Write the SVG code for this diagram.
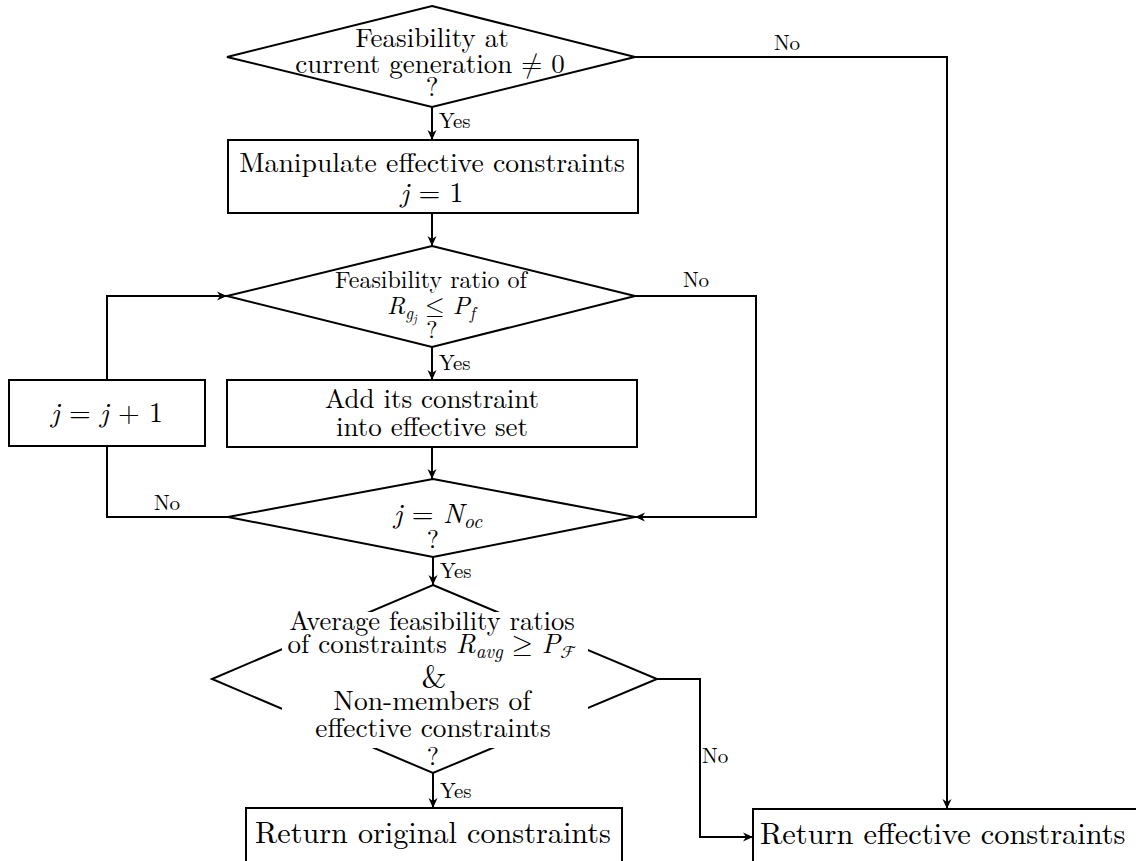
<svg xmlns="http://www.w3.org/2000/svg" width="1136" height="861" viewBox="0 0 1136 861">
<style>
.n{fill:#fff;stroke:#000;stroke-width:2}
.c{fill:none;stroke:#000;stroke-width:2}
.w{fill:#fff;stroke:none}
text{font-family:'Latin Modern Roman','Latin Modern Math','Liberation Serif','DejaVu Serif',serif;fill:#000}
.m{text-anchor:middle}
.s{text-anchor:start}
.lbl{font-size:21px}
.i{font-style:italic}
.cal{font-family:'Latin Modern Math','DejaVu Sans',serif;font-style:normal}
</style>
<defs>
<marker id="ah" viewBox="0 0 10 10" refX="10" refY="5" markerWidth="10" markerHeight="10" orient="auto" markerUnits="userSpaceOnUse">
<path d="M0,0.5 L10,5 L0,9.5 L3,5 z" fill="#000"/>
</marker>
</defs>
<rect width="1136" height="861" fill="#fff"/>

<g id="connectors">
<path class="c" d="M432,107 V140" marker-end="url(#ah)"/>
<path class="c" d="M635,57 H947 V809" marker-end="url(#ah)"/>
<path class="c" d="M432,213 V246" marker-end="url(#ah)"/>
<path class="c" d="M432,347 V380" marker-end="url(#ah)"/>
<path class="c" d="M635,296 H756 V517 H635" marker-end="url(#ah)"/>
<path class="c" d="M432,447 V479" marker-end="url(#ah)"/>
<path class="c" d="M228,517 H107 V446"/>
<path class="c" d="M107,380 V296 H227" marker-end="url(#ah)"/>
<path class="c" d="M433,557 V585" marker-end="url(#ah)"/>
<path class="c" d="M433,773 V808" marker-end="url(#ah)"/>
<path class="c" d="M657,679 H700 V837 H753" marker-end="url(#ah)"/>
<text class="lbl s" x="439" y="128">Yes</text>
<text class="lbl m" x="787" y="50">No</text>
<text class="lbl s" x="439" y="370">Yes</text>
<text class="lbl m" x="696" y="287">No</text>
<text class="lbl m" x="167" y="510">No</text>
<text class="lbl s" x="440" y="578">Yes</text>
<text class="lbl s" x="440" y="798">Yes</text>
<text class="lbl s" x="702" y="763">No</text>
</g>

<g id="d1">
<polygon class="n" points="432,6 635,57 432,107 227,57"/>
<text class="m" font-size="27" x="432" y="47">Feasibility at</text>
<text class="m" font-size="27" x="430" y="73">current generation ≠ 0</text>
<text class="m" font-size="27" x="432" y="96">?</text>
</g>

<g id="b1">
<rect class="n" x="228" y="140" width="410" height="73"/>
<text class="m" font-size="27.7" x="432" y="172">Manipulate effective constraints</text>
<text class="m" font-size="28" x="432" y="202"><tspan class="i">j</tspan> = 1</text>
</g>

<g id="d2">
<polygon class="n" points="432,246 635,296 432,347 227,296"/>
<text class="m" font-size="24" x="431" y="288">Feasibility ratio of</text>
<text class="m" font-size="25" x="431" y="314"><tspan class="i">R</tspan><tspan class="i" font-size="17" dy="5">g</tspan><tspan class="i" font-size="12" dy="4">j</tspan><tspan dy="-9"> ≤ </tspan><tspan class="i">P</tspan><tspan class="i" font-size="17" dy="5">f</tspan></text>
<text class="m" font-size="24" x="432" y="338">?</text>
</g>

<g id="b2">
<rect class="n" x="227" y="380" width="410" height="67"/>
<text class="m" font-size="27" x="432" y="408">Add its constraint</text>
<text class="m" font-size="27" x="432" y="436">into effective set</text>
</g>

<g id="b3">
<rect class="n" x="9" y="380" width="196" height="66"/>
<text class="m" font-size="28" x="107" y="422"><tspan class="i">j</tspan> = <tspan class="i">j</tspan> + 1</text>
</g>

<g id="d3">
<polygon class="n" points="433,479 635,517 433,557 228,517"/>
<text class="m" font-size="28" x="438" y="523"><tspan class="i">j</tspan> = <tspan class="i">N</tspan><tspan class="i" font-size="20" dy="5">oc</tspan></text>
<text class="m" font-size="26" x="433" y="548">?</text>
</g>

<g id="d4">
<polygon class="n" points="433,585 657,679 433,773 212,679"/>
<rect class="w" x="282" y="612" width="306" height="136"/>
<text class="m" font-size="26.6" x="432" y="630">Average feasibility ratios</text>
<text class="m" font-size="27" x="432" y="653">of constraints <tspan class="i">R</tspan><tspan class="i" font-size="19" dy="5">avg</tspan><tspan dy="-5"> ≥ </tspan><tspan class="i">P</tspan><tspan class="cal" font-size="18" dy="5">ℱ</tspan></text>
<text class="m" font-size="32" x="434" y="688">&amp;</text>
<text class="m" font-size="27.5" x="432" y="710">Non-members of</text>
<text class="m" font-size="27.3" x="433" y="737">effective constraints</text>
<text class="m" font-size="26" x="433" y="765">?</text>
</g>

<g id="b4">
<rect class="n" x="246" y="808" width="376" height="80"/>
<text class="m" font-size="30.2" x="433" y="843">Return original constraints</text>
</g>

<g id="b5">
<rect class="n" x="753" y="809" width="400" height="80"/>
<text class="s" font-size="30.4" x="760" y="844">Return effective constraints</text>
</g>
</svg>
